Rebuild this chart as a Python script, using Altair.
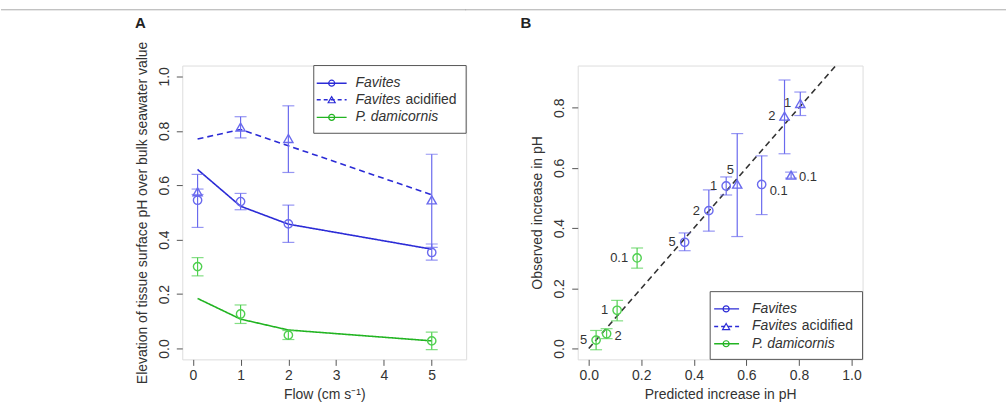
import altair as alt
import pandas as pd

# ---------------- data ----------------
flow = [0.1, 1, 2, 5]
flow_text = ["0.1", "1", "2", "5"]

fav_obs = [0.545, 0.540, 0.458, 0.353]
fav_lo = [0.445, 0.510, 0.390, 0.325]
fav_hi = [0.640, 0.570, 0.527, 0.384]
fav_pred = [0.658, 0.523, 0.457, 0.365]

acid_obs = [0.576, 0.814, 0.772, 0.546]
acid_lo = [0.566, 0.774, 0.647, 0.372]
acid_hi = [0.586, 0.852, 0.892, 0.714]
acid_pred = [0.770, 0.805, 0.745, 0.565]

pdam_obs = [0.301, 0.127, 0.049, 0.028]
pdam_lo = [0.267, 0.092, 0.033, -0.004]
pdam_hi = [0.334, 0.160, 0.066, 0.060]
pdam_pred = [0.184, 0.108, 0.068, 0.028]

series_names = ["Favites", "Favites acidified", "P. damicornis"]
one_to_one = [0.0, 1.0]

# ---------------- styling ----------------
FONT = "Liberation Sans"
TXT = "#333333"
BOX = "#555555"
dark = {"Favites": "#2b2bd6", "Favites acidified": "#2b2bd6", "P. damicornis": "#22b422"}
light = {"Favites": "#6a6aee", "Favites acidified": "#6a6aee", "P. damicornis": "#4fd04f"}
shape = {"Favites": "circle", "Favites acidified": "triangle-up", "P. damicornis": "circle"}
dash = {"Favites": [1, 0], "Favites acidified": [6, 4], "P. damicornis": [1, 0]}
# where the flow label sits next to each point in panel B
label_side = {("Favites", "0.1"): "br", ("Favites acidified", "0.1"): "r",
              ("P. damicornis", "2"): "r", ("Favites acidified", "5"): "a"}

rows = []
for name, obs, lo, hi, pred in [
    ("Favites", fav_obs, fav_lo, fav_hi, fav_pred),
    ("Favites acidified", acid_obs, acid_lo, acid_hi, acid_pred),
    ("P. damicornis", pdam_obs, pdam_lo, pdam_hi, pdam_pred),
]:
    for f, ft, o, l, h, p in zip(flow, flow_text, obs, lo, hi, pred):
        rows.append(dict(series=name, flow=f, flab=ft, obs=o, lo=l, hi=h, pred=p,
                         side=label_side.get((name, ft), "l")))
df = pd.DataFrame(rows)
line_df = pd.DataFrame({"x": one_to_one, "y": one_to_one})
one = pd.DataFrame({"k": [0]})

W_A, W_B, H = 285, 286, 295
TOP = -56          # figure top rule, relative to the plot tops
TAG_Y = -43


def xaxis(title, values):
    return alt.Axis(title=title, values=values, format=".1f" if max(values) <= 1 else "d",
                    domain=False, grid=False, tickSize=6, tickColor=BOX, labelFont=FONT,
                    labelFontSize=14, labelColor=TXT, labelPadding=3, titleFont=FONT,
                    titleFontSize=14, titleColor=TXT, titleFontWeight="normal", titlePadding=5)


def yaxis(title, values):
    return alt.Axis(title=title, values=values, format=".1f", domain=False, grid=False,
                    tickSize=6, tickColor=BOX, labelFont=FONT, labelFontSize=14,
                    labelColor=TXT, labelAngle=270, labelAlign="center",
                    labelBaseline="bottom", labelPadding=5, titleFont=FONT, titleFontSize=14,
                    titleColor=TXT, titleFontWeight="normal", titlePadding=8, titleLimit=800)


def series_layers(xfield, xscale, yscale, xax, yax, with_line):
    layers = []
    for s in series_names:
        base = alt.Chart(df).transform_filter(alt.datum.series == s)
        X = alt.X(f"{xfield}:Q", scale=xscale, axis=xax)
        if with_line:
            layers.append(base.mark_line(color=dark[s], strokeWidth=1.6, strokeDash=dash[s]).encode(
                x=X, y=alt.Y("pred:Q", scale=yscale, axis=yax)))
        layers.append(base.mark_rule(color=light[s], strokeWidth=1.2).encode(
            x=X, y=alt.Y("lo:Q", scale=yscale, axis=yax), y2="hi:Q"))
        for fld in ["lo", "hi"]:
            layers.append(base.mark_tick(color=light[s], orient="horizontal", size=12,
                                         thickness=1.2).encode(
                x=X, y=alt.Y(f"{fld}:Q", scale=yscale, axis=yax)))
        layers.append(base.mark_point(shape=shape[s], filled=False, color=light[s],
                                      size=70 if shape[s] == "circle" else 85,
                                      strokeWidth=1.4, opacity=1).encode(
            x=X, y=alt.Y("obs:Q", scale=yscale, axis=yax)))
    return layers


def legend_layers(x_box, y_box, x2_box, y2_box, x_line, x_line2, x_mark, x_text, ys):
    L = [alt.Chart(one).mark_rect(fill="white", stroke=BOX, strokeWidth=1).encode(
        x=alt.value(x_box), x2=alt.value(x2_box), y=alt.value(y_box), y2=alt.value(y2_box))]
    for s, yy in zip(series_names, ys):
        L.append(alt.Chart(one).mark_rule(color=dark[s], strokeWidth=1.4,
                                          strokeDash=[4, 3] if s == "Favites acidified" else [1, 0]).encode(
            x=alt.value(x_line), x2=alt.value(x_line2), y=alt.value(yy)))
        L.append(alt.Chart(one).mark_point(shape=shape[s], filled=False, color=dark[s],
                                           size=36 if shape[s] == "circle" else 50,
                                           strokeWidth=1.2, opacity=1).encode(
            x=alt.value(x_mark), y=alt.value(yy)))
        italic = "Favites" if s == "Favites acidified" else s
        L.append(alt.Chart(one).mark_text(text=italic, font=FONT, fontSize=14, fontStyle="italic",
                                          color=TXT, align="left", baseline="middle").encode(
            x=alt.value(x_text), y=alt.value(yy)))
        if s == "Favites acidified":
            L.append(alt.Chart(one).mark_text(text="acidified", font=FONT, fontSize=14,
                                              color=TXT, align="left", baseline="middle").encode(
                x=alt.value(x_text + 50), y=alt.value(yy)))
    return L


def panel_tag(tag, x, y):
    return alt.Chart(one).mark_text(text=tag, font=FONT, fontSize=15, fontWeight="bold",
                                    color="#222", align="center", baseline="middle").encode(
        x=alt.value(x), y=alt.value(y))


def top_rule(x1, x2):
    return alt.Chart(one).mark_rule(color="#aaaaaa", strokeWidth=1).encode(
        x=alt.value(x1), x2=alt.value(x2), y=alt.value(TOP))


# ---------------- panel A ----------------
xsA = alt.Scale(domain=[-0.22, 5.72], nice=False, zero=False)
ysA = alt.Scale(domain=[-0.04, 1.04], nice=False, zero=False)
xaA = xaxis("Flow (cm s\u207b\u00b9)", [0, 1, 2, 3, 4, 5])
yaA = yaxis("Elevation of tissue surface pH over bulk seawater value", [0, 0.2, 0.4, 0.6, 0.8, 1.0])

panelA = alt.layer(
    *series_layers("flow", xsA, ysA, xaA, yaA, True),
    *legend_layers(132, 0, W_A, 68, 135, 165, 150, 174, [17.7, 34.3, 52]),
    panel_tag("A", -42, TAG_Y),
    top_rule(-182, W_A),
).properties(width=W_A, height=H)

# ---------------- panel B ----------------
xsB = alt.Scale(domain=[-0.042, 1.042], nice=False, zero=False)
ysB = alt.Scale(domain=[-0.036, 0.94], nice=False, zero=False)
xaB = xaxis("Predicted increase in pH", [0, 0.2, 0.4, 0.6, 0.8, 1.0])
yaB = yaxis("Observed increase in pH", [0, 0.2, 0.4, 0.6, 0.8])

ref = alt.Chart(line_df).mark_line(color="#333333", strokeWidth=1.6, strokeDash=[6, 4],
                                   clip=True).encode(
    x=alt.X("x:Q", scale=xsB, axis=xaB), y=alt.Y("y:Q", scale=ysB, axis=yaB))


def labels(side, align, dx, dy):
    return alt.Chart(df).transform_filter(alt.datum.side == side).mark_text(
        font=FONT, fontSize=13, color=TXT, align=align, baseline="middle", dx=dx, dy=dy).encode(
        x=alt.X("pred:Q", scale=xsB, axis=xaB), y=alt.Y("obs:Q", scale=ysB, axis=yaB),
        text="flab:N")


panelB = alt.layer(
    ref,
    *series_layers("pred", xsB, ysB, xaB, yaB, False),
    labels("l", "right", -9, 0),
    labels("r", "left", 8, 2),
    labels("br", "left", 8, 7),
    labels("a", "center", -7, -14),
    *legend_layers(133, 227, W_B, H, 137, 162, 149, 175, [244.3, 262, 279.3]),
    panel_tag("B", -52, TAG_Y),
    top_rule(-113, 430),
).properties(width=W_B, height=H)

chart = alt.hconcat(panelA, panelB, spacing=-3).properties(
    padding={"left": 0, "top": 8, "right": 0, "bottom": 4}
).configure_view(stroke=BOX, strokeWidth=1).configure(background="white")

chart.save("out.html", embed_options={"renderer": "svg", "actions": False})
